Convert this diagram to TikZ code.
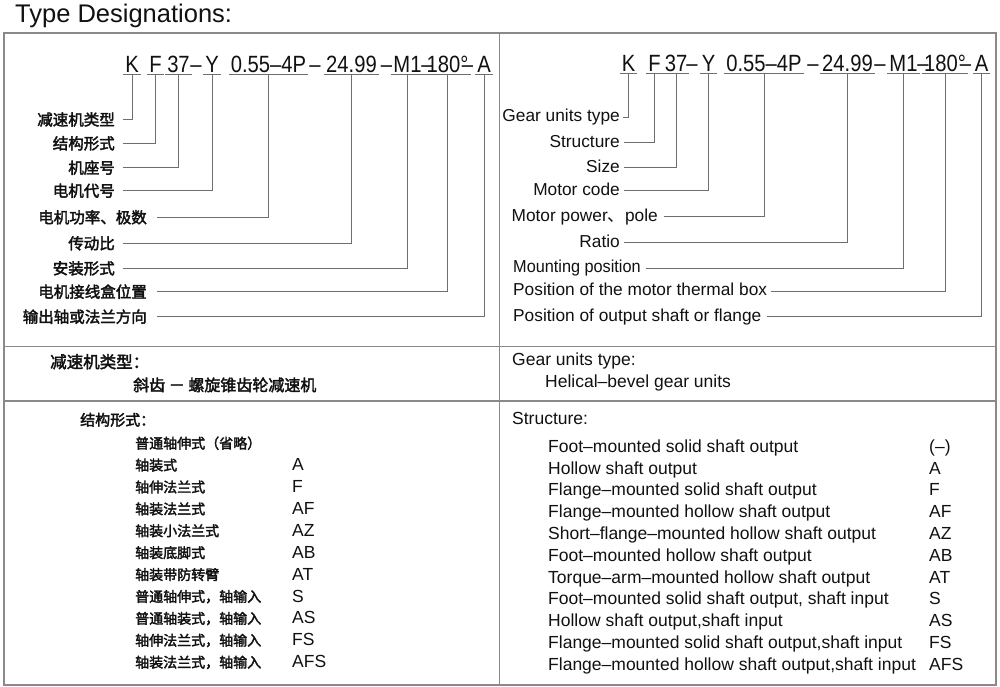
\documentclass[tikz,border=0pt]{standalone}
\usepackage{fontspec}
\setmainfont{Liberation Sans}
\newfontfamily\codefont{Liberation Sans}[FakeStretch=0.86]
\newfontfamily\cjkb{Noto Sans CJK SC}[FakeBold=2.4]
\newfontfamily\cjkr{Noto Sans CJK SC}
\usetikzlibrary{calc}
\definecolor{framec}{HTML}{8A8A8A}
\definecolor{connc}{HTML}{6E6E6E}
\definecolor{textc}{HTML}{111111}
\begin{document}
\begin{tikzpicture}[x=1pt,y=-1pt,
  frame/.style={draw=framec,line width=1.3pt},
  conn/.style={draw=connc,line width=0.9pt},
  uline/.style={draw=connc,line width=0.9pt},
  code/.style={inner sep=0pt,anchor=base,text=textc,font=\codefont\fontsize{23.5}{26}\selectfont},
  latlab/.style={inner sep=0pt,text=textc,text height=12.4pt,text depth=3.5pt,font=\fontsize{17.3}{20}\selectfont},
  cjklab/.style={inner sep=0pt,text=textc,text height=12.9pt,text depth=1.1pt,font=\cjkb\fontsize{15.5}{18}\selectfont},
  lattxt/.style={inner sep=0pt,anchor=base west,text=textc,font=\fontsize{17.5}{20}\selectfont},
  cjktxt/.style={inner sep=0pt,anchor=base west,text=textc,font=\cjkb\fontsize{14}{17}\selectfont},
  cjkhead/.style={inner sep=0pt,anchor=base west,text=textc,font=\cjkb\fontsize{16.5}{19}\selectfont}
]
\useasboundingbox[fill=white] (0,0) rectangle (1000,686);

% title
\node[inner sep=0pt,anchor=base west,text=textc,font=\fontsize{25.5}{29}\selectfont] (title) at (15,22) {Type Designations:};

% frame
\draw[frame] (4,33) rectangle (996,685);
\draw[frame] (499.5,33) -- (499.5,685);
\draw[frame] (4,346.5) -- (996,346.5);
\draw[frame] (4,401) -- (996,401);

% ---------- left code ----------
\node[code] (a1) at (132,72) {K};
\node[code] (a2) at (155.5,72) {F};
\node[code] (a3) at (178.5,72) {37};
\node[code] (ad1) at (196,72) {–};
\node[code] (a4) at (212,72) {Y};
\node[code] (a5) at (268.5,72) {0.55–4P};
\node[code] (ad2) at (315,72) {–};
\node[code] (a6) at (351.5,72) {24.99};
\node[code] (ad3) at (386.5,72) {–};
\node[code] (a7) at (407.5,72) {M1};
\node[code] (ad4) at (427,72) {–};
\node[code] (a8) at (447.5,72) {180°};
\node[code] (ad5) at (467.5,72) {–};
\node[code] (a9) at (484,72) {A};
\foreach \n in {a1,a2,a3,a4,a5,a6,a7,a8,a9}{
  \draw[uline] ([xshift=-2pt,yshift=-2.5pt]\n.base west) -- ([xshift=2pt,yshift=-2.5pt]\n.base east);
  \coordinate (u\n) at ([yshift=-2.5pt]\n.base);
}

% left labels
\node[cjklab,anchor=east] (l1) at (115,119.5) {减速机类型};
\node[cjklab,anchor=east] (l2) at (115,143.3) {结构形式};
\node[cjklab,anchor=east] (l3) at (115,167.7) {机座号};
\node[cjklab,anchor=east] (l4) at (115,190.7) {电机代号};
\node[cjklab,anchor=east] (l5) at (147,217.3) {电机功率、极数};
\node[cjklab,anchor=east] (l6) at (115,243.3) {传动比};
\node[cjklab,anchor=east] (l7) at (115,268.3) {安装形式};
\node[cjklab,anchor=east] (l8) at (147,291.7) {电机接线盒位置};
\node[cjklab,anchor=east] (l9) at (147,316.7) {输出轴或法兰方向};
\draw[conn] ([xshift=8pt]l1.east) -| (ua1);
\draw[conn] ([xshift=8pt]l2.east) -| (ua2);
\draw[conn] ([xshift=8pt]l3.east) -| (ua3);
\draw[conn] ([xshift=8pt]l4.east) -| (ua4);
\draw[conn] ([xshift=10pt]l5.east) -| (ua5);
\draw[conn] ([xshift=8pt]l6.east) -| (ua6);
\draw[conn] ([xshift=8pt]l7.east) -| (ua7);
\draw[conn] ([xshift=10pt]l8.east) -| (ua8);
\draw[conn] ([xshift=10pt]l9.east) -| (ua9);

% ---------- right code ----------
\node[code] (b1) at (628.5,71) {K};
\node[code] (b2) at (654.5,71) {F};
\node[code] (b3) at (676,71) {37};
\node[code] (bd1) at (692,71) {–};
\node[code] (b4) at (708.5,71) {Y};
\node[code] (b5) at (764,71) {0.55–4P};
\node[code] (bd2) at (813,71) {–};
\node[code] (b6) at (847.5,71) {24.99};
\node[code] (bd3) at (880,71) {–};
\node[code] (b7) at (903.5,71) {M1};
\node[code] (bd4) at (923,71) {–};
\node[code] (b8) at (945,71) {180°};
\node[code] (bd5) at (965.5,71) {–};
\node[code] (b9) at (981.5,71) {A};
\foreach \n in {b1,b2,b3,b4,b5,b6,b7,b8,b9}{
  \draw[uline] ([xshift=-2pt,yshift=-2.5pt]\n.base west) -- ([xshift=2pt,yshift=-2.5pt]\n.base east);
  \coordinate (u\n) at ([yshift=-2.5pt]\n.base);
}

% right labels
\node[latlab,anchor=east] (r1) at (620,117) {Gear units type};
\node[latlab,anchor=east] (r2) at (620,142.7) {Structure};
\node[latlab,anchor=east] (r3) at (620,167.7) {Size};
\node[latlab,anchor=east] (r4) at (620,190.7) {Motor code};
\node[latlab,anchor=east] (r5) at (658,216.7) {Motor power{\cjkr 、}pole};
\node[latlab,anchor=east] (r6) at (620,242.7) {Ratio};
\node[latlab,anchor=west] (r7) at (513,268.3) {\scalebox{0.94}[1]{Mounting position}};
\node[latlab,anchor=west] (r8) at (513,291) {Position of the motor thermal box};
\node[latlab,anchor=west] (r9) at (513,316.7) {Position of output shaft or flange};
\draw[conn] ([xshift=3pt]r1.east) -| (ub1);
\draw[conn] ([xshift=4pt]r2.east) -| (ub2);
\draw[conn] ([xshift=4pt]r3.east) -| (ub3);
\draw[conn] ([xshift=4pt]r4.east) -| (ub4);
\draw[conn] ([xshift=6pt]r5.east) -| (ub5);
\draw[conn] ([xshift=4pt]r6.east) -| (ub6);
\draw[conn] ([xshift=5pt]r7.east) -| (ub7);
\draw[conn] ([xshift=4pt]r8.east) -| (ub8);
\draw[conn] ([xshift=5pt]r9.east) -| (ub9);

% ---------- gear unit type ----------
\node[cjkhead] (gtl) at (50,368) {减速机类型：};
\node[cjktxt,font=\cjkb\fontsize{16}{19}\selectfont] (gtl2) at (133,391) {斜齿 － 螺旋锥齿轮减速机};
\node[lattxt] (gtr) at (512,365) {Gear units type:};
\node[lattxt] (gtr2) at (545,387.7) {Helical–bevel gear units};

% ---------- structure left ----------
\node[cjktxt,font=\cjkb\fontsize{15}{18}\selectfont] (stl) at (80,425.5) {结构形式：};
\node[cjktxt] (s0) at (135,448.5) {普通轴伸式（省略）};
\node[cjktxt] (s1) at (135,470.4) {轴装式};
\node[cjktxt] (s2) at (135,492.3) {轴伸法兰式};
\node[cjktxt] (s3) at (135,514.2) {轴装法兰式};
\node[cjktxt] (s4) at (135,536.1) {轴装小法兰式};
\node[cjktxt] (s5) at (135,558.0) {轴装底脚式};
\node[cjktxt] (s6) at (135,579.9) {轴装带防转臂};
\node[cjktxt] (s7) at (135,601.8) {普通轴伸式，轴输入};
\node[cjktxt] (s8) at (135,623.7) {普通轴装式，轴输入};
\node[cjktxt] (s9) at (135,645.6) {轴伸法兰式，轴输入};
\node[cjktxt] (s10) at (135,667.5) {轴装法兰式，轴输入};
\node[lattxt] (c1) at (292,470.6) {A};
\node[lattxt] (c2) at (292,492.5) {F};
\node[lattxt] (c3) at (292,514.4) {AF};
\node[lattxt] (c4) at (292,536.3) {AZ};
\node[lattxt] (c5) at (292,558.2) {AB};
\node[lattxt] (c6) at (292,580.1) {AT};
\node[lattxt] (c7) at (292,602.0) {S};
\node[lattxt] (c8) at (292,623.9) {AS};
\node[lattxt] (c9) at (292,645.8) {FS};
\node[lattxt] (c10) at (292,667.7) {AFS};

% ---------- structure right ----------
\node[lattxt] (str) at (512,424) {Structure:};
\node[lattxt] (e0) at (548,452.3) {Foot–mounted solid shaft output};
\node[lattxt] (e1) at (548,474.1) {Hollow shaft output};
\node[lattxt] (e2) at (548,495.9) {Flange–mounted solid shaft output};
\node[lattxt] (e3) at (548,517.7) {Flange–mounted hollow shaft output};
\node[lattxt] (e4) at (548,539.5) {Short–flange–mounted hollow shaft output};
\node[lattxt] (e5) at (548,561.3) {Foot–mounted hollow shaft output};
\node[lattxt] (e6) at (548,583.1) {Torque–arm–mounted hollow shaft output};
\node[lattxt] (e7) at (548,604.9) {Foot–mounted solid shaft output, shaft input};
\node[lattxt] (e8) at (548,626.7) {Hollow shaft output,shaft input};
\node[lattxt] (e9) at (548,648.5) {Flange–mounted solid shaft output,shaft input};
\node[lattxt] (e10) at (548,670.3) {Flange–mounted hollow shaft output,shaft input};
\node[lattxt] (f0) at (929,452.3) {(–)};
\node[lattxt] (f1) at (929,474.1) {A};
\node[lattxt] (f2) at (929,495.9) {F};
\node[lattxt] (f3) at (929,517.7) {AF};
\node[lattxt] (f4) at (929,539.5) {AZ};
\node[lattxt] (f5) at (929,561.3) {AB};
\node[lattxt] (f6) at (929,583.1) {AT};
\node[lattxt] (f7) at (929,604.9) {S};
\node[lattxt] (f8) at (929,626.7) {AS};
\node[lattxt] (f9) at (929,648.5) {FS};
\node[lattxt] (f10) at (929,670.3) {AFS};
\end{tikzpicture}
\end{document}
